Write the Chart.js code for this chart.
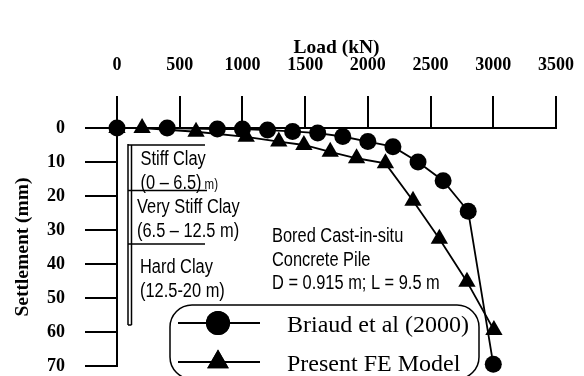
<!DOCTYPE html>
<html><head><meta charset="utf-8">
<script src="https://cdn.jsdelivr.net/npm/chart.js@4.4.1/dist/chart.umd.min.js"></script>
<style>html,body{margin:0;padding:0;background:#fff;}#wrap{width:584px;height:376px;}</style>
</head><body><div id="wrap"><canvas id="c" width="584" height="376"></canvas></div>
<script>
const xTicks = [0, 500, 1000, 1500, 2000, 2500, 3000, 3500];
const yTicks = [0, 10, 20, 30, 40, 50, 60, 70];
const briaudLoad   = [0, 400, 800, 1000, 1200, 1400, 1600, 1800, 2000, 2200, 2400, 2600, 2800, 3000];
const briaudSettle = [0, 0, 0.3, 0.3, 0.6, 1, 1.5, 2.5, 4, 5.5, 10, 15.5, 24.5, 69.5];
const feLoad   = [0, 200, 630, 1030, 1290, 1490, 1700, 1910, 2140, 2360, 2570, 2790, 3005];
const feSettle = [0, 0, 1.1, 2.6, 4, 5, 7, 8.9, 10.4, 21.4, 32.6, 45.2, 59.4];
const seriesNames = ['Briaud et al (2000)', 'Present FE Model'];
const xTitle = 'Load (kN)';
const yTitle = 'Settlement (mm)';
const soilLayers = [
  ['Stiff Clay', '(0 \u2013 6.5)'],
  ['Very Stiff Clay', '(6.5 \u2013 12.5 m)'],
  ['Hard Clay', '(12.5-20 m)']
];
const pileNote = ['Bored Cast-in-situ', 'Concrete Pile', 'D = 0.915 m; L = 9.5 m'];

const toXY = (xs, ys) => xs.map((x, i) => ({x: x, y: ys[i]}));
const serifBold = {family: "'Liberation Serif', 'Times New Roman', serif", weight: 'bold', size: 18};
const serifBoldTitle = {family: "'Liberation Serif', 'Times New Roman', serif", weight: 'bold', size: 19.5};

function narrow(ctx, text, x, y, size) {
  ctx.save();
  ctx.translate(x, y);
  ctx.scale(0.82, 1);
  ctx.font = size + "px 'Liberation Sans', Arial, sans-serif";
  ctx.textBaseline = 'alphabetic';
  ctx.textAlign = 'left';
  ctx.fillText(text, 0, 0);
  const w = ctx.measureText(text).width * 0.82;
  ctx.restore();
  return w;
}

const annot = {
  id: 'annot',
  afterDraw(chart) {
    const ctx = chart.ctx;
    ctx.save();
    ctx.strokeStyle = '#000';
    ctx.fillStyle = '#000';
    ctx.lineWidth = 1.5;
    // bracket
    ctx.beginPath();
    ctx.moveTo(128, 144); ctx.lineTo(128, 325);
    ctx.moveTo(131.5, 145); ctx.lineTo(131.5, 325);
    ctx.moveTo(128, 325); ctx.lineTo(131.5, 325);
    ctx.moveTo(128, 145); ctx.lineTo(205, 145);
    ctx.moveTo(128, 190.5); ctx.lineTo(207, 190.5);
    ctx.moveTo(128, 244); ctx.lineTo(205, 244);
    ctx.stroke();
    // soil layer texts
    narrow(ctx, soilLayers[0][0], 140.5, 165, 20);
    const w = narrow(ctx, soilLayers[0][1], 140.5, 189, 20);
    narrow(ctx, 'm)', 140.5 + w + 3, 189, 14);
    narrow(ctx, soilLayers[1][0], 137, 213, 20);
    narrow(ctx, soilLayers[1][1], 137, 237, 20);
    narrow(ctx, soilLayers[2][0], 140, 273, 20);
    narrow(ctx, soilLayers[2][1], 140, 297, 20);
    // pile note
    pileNote.forEach((t, i) => narrow(ctx, t, 272, 242 + i * 23.5, 20));
    // legend box
    ctx.lineWidth = 1.5;
    ctx.beginPath();
    ctx.roundRect(170, 305, 309, 74, 22);
    ctx.stroke();
    const items = [
      {style: 'circle', r: 12, y: 323},
      {style: 'triangle', r: 12.5, y: 362}
    ];
    items.forEach((it, i) => {
      ctx.lineWidth = 2;
      ctx.beginPath();
      ctx.moveTo(178, it.y); ctx.lineTo(260, it.y);
      ctx.stroke();
      Chart.helpers.drawPoint(ctx, {pointStyle: it.style, radius: it.r, borderWidth: 0, rotation: 0}, 218, it.y);
      ctx.fill();
      ctx.font = "24px 'Liberation Serif', 'Times New Roman', serif";
      ctx.textBaseline = 'alphabetic';
      ctx.textAlign = 'left';
      ctx.fillText(seriesNames[i], 287, i === 0 ? 332 : 371);
    });
    ctx.restore();
  }
};

const zeroPad = s => { s.paddingLeft = 0; s.paddingRight = 0; s.paddingTop = 0; s.paddingBottom = 0; };

new Chart(document.getElementById('c'), {
  type: 'scatter',
  data: {
    datasets: [
      {
        label: seriesNames[0],
        data: toXY(briaudLoad, briaudSettle),
        showLine: true,
        borderColor: '#000',
        backgroundColor: '#000',
        borderWidth: 1.8,
        pointStyle: 'circle',
        pointRadius: 8.5,
        pointBorderWidth: 0,
        clip: false
      },
      {
        label: seriesNames[1],
        data: toXY(feLoad, feSettle),
        showLine: true,
        borderColor: '#000',
        backgroundColor: '#000',
        borderWidth: 1.8,
        pointStyle: 'triangle',
        pointRadius: 10,
        pointBorderWidth: 0,
        clip: false
      }
    ]
  },
  options: {
    responsive: false,
    animation: false,
    devicePixelRatio: 1,
    layout: {padding: {left: 0, top: 0, right: 28, bottom: 9}},
    plugins: {legend: {display: false}, tooltip: {enabled: false}},
    scales: {
      x: {
        type: 'linear',
        position: 'top',
        min: xTicks[0],
        max: xTicks[xTicks.length - 1],
        afterBuildTicks: s => { s.ticks = xTicks.map(v => ({value: v})); },
        afterFit: s => { s.height = 128; zeroPad(s); },
        grid: {drawOnChartArea: false, drawTicks: true, tickLength: 32, color: '#000', lineWidth: 2},
        border: {color: '#000', width: 2},
        ticks: {color: '#000', font: serifBold, padding: 20, maxRotation: 0, autoSkip: false, callback: v => String(v)},
        title: {display: true, text: xTitle, color: '#000', font: serifBoldTitle, padding: {top: 36, bottom: 0}}
      },
      y: {
        type: 'linear',
        position: 'left',
        reverse: true,
        min: yTicks[0],
        max: yTicks[yTicks.length - 1],
        afterBuildTicks: s => { s.ticks = yTicks.map(v => ({value: v})); },
        afterFit: s => { s.width = 117; zeroPad(s); },
        grid: {drawOnChartArea: false, drawTicks: true, tickLength: 32, color: '#000', lineWidth: 2},
        border: {color: '#000', width: 2},
        ticks: {color: '#000', font: serifBold, padding: 20, autoSkip: false, callback: v => String(v)},
        title: {display: true, text: yTitle, color: '#000', font: serifBoldTitle, padding: {top: 11, bottom: 0}}
      }
    }
  },
  plugins: [annot]
});
</script>
</body></html>
